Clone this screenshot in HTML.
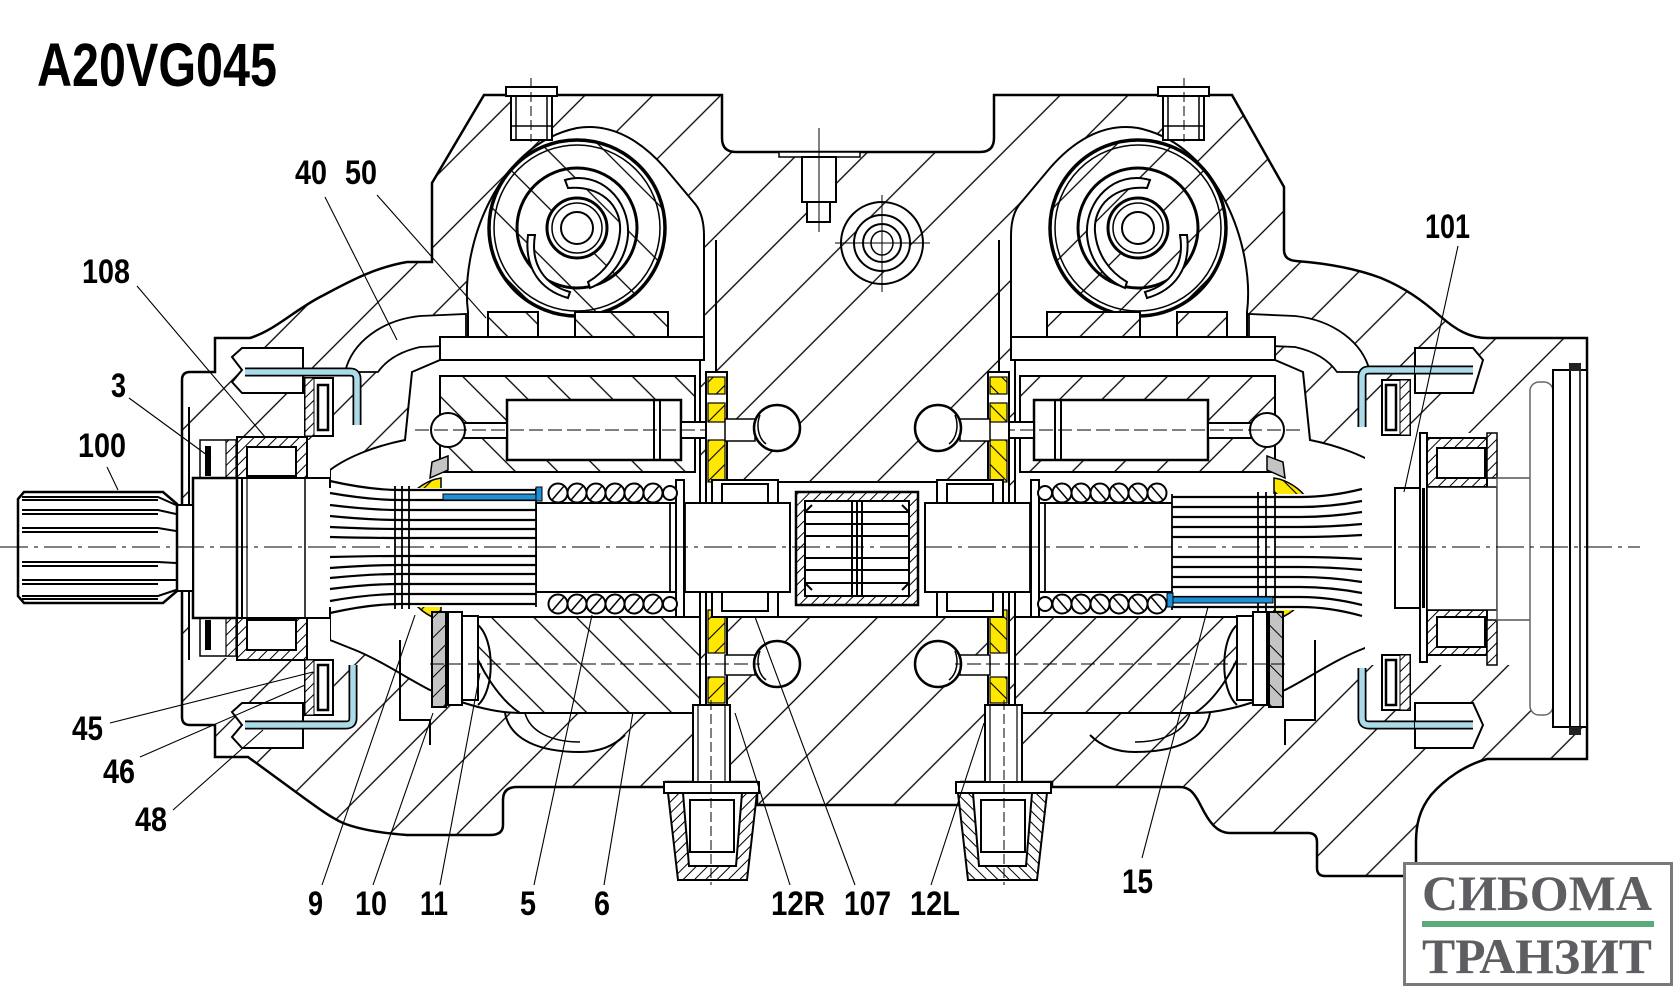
<!DOCTYPE html>
<html><head><meta charset="utf-8">
<style>html,body{margin:0;padding:0;background:#fff}svg{display:block}</style>
</head><body>
<svg width="1674" height="988" viewBox="0 0 1674 988" xmlns="http://www.w3.org/2000/svg" xmlns:xlink="http://www.w3.org/1999/xlink">
<defs>
<pattern id="hA" patternUnits="userSpaceOnUse" width="48" height="48" patternTransform="rotate(45)"><rect width="48" height="48" fill="#fff"/><line x1="1" y1="0" x2="1" y2="48" stroke="#000" stroke-width="1.3"/></pattern>
<pattern id="hB" patternUnits="userSpaceOnUse" width="30" height="30" patternTransform="rotate(-45)"><rect width="30" height="30" fill="#fff"/><line x1="1" y1="0" x2="1" y2="30" stroke="#000" stroke-width="1.3"/></pattern>
<pattern id="hB2" patternUnits="userSpaceOnUse" width="40" height="40" patternTransform="rotate(-45)"><rect width="40" height="40" fill="#fff"/><line x1="1" y1="0" x2="1" y2="40" stroke="#000" stroke-width="1.3"/></pattern>
<pattern id="hS" patternUnits="userSpaceOnUse" width="8" height="8" patternTransform="rotate(45)"><rect width="8" height="8" fill="#fff"/><line x1="1" y1="0" x2="1" y2="8" stroke="#000" stroke-width="1"/></pattern>
<pattern id="hY" patternUnits="userSpaceOnUse" width="14" height="14" patternTransform="rotate(45)"><rect width="14" height="14" fill="#ffe800"/><line x1="1" y1="0" x2="1" y2="14" stroke="#000" stroke-width="1.1"/></pattern>
<pattern id="hG" patternUnits="userSpaceOnUse" width="14" height="14" patternTransform="rotate(45)"><rect width="14" height="14" fill="#c4c4c4"/><line x1="1" y1="0" x2="1" y2="14" stroke="#000" stroke-width="1"/></pattern>
</defs>
<rect width="1674" height="988" fill="#fff"/>

<!-- main housing silhouette -->
<path d="M182,380 Q182,372 190,372 L215,372 L215,338 L250,338 C275,330 292,312 320,297 C345,284 372,268 407,262 L432,262 L432,183 L484,95 L722,95 L722,138 Q722,152 736,152 L980,152 Q994,152 994,138 L994,95 L1232,95 L1284,187 L1284,250 Q1284,260 1296,261 C1322,263 1352,267 1381,278 C1405,288 1422,300 1440,316 C1456,330 1470,338 1487,338 L1587,338 L1587,759 L1487,759 C1465,765 1445,779 1431,795 C1419,810 1416,826 1416,842 L1416,868 Q1416,876 1408,876 L1325,876 Q1317,876 1317,868 L1317,842 Q1317,833 1308,833 L1230,833 C1216,833 1208,820 1201,806 C1195,794 1190,787 1180,787 L1052,787 L1052,782 L961,782 L961,805 L757,805 L757,782 L666,782 L666,787 L517,787 Q503,787 503,800 L503,825 Q503,835 490,835 L407,835 C380,833 358,829 343,823 C330,817 318,808 300,795 L248,757 L215,757 L215,725 L190,725 Q182,725 182,717 Z" fill="url(#hA)" stroke="#000" stroke-width="2.5"/>

<!-- center bore -->
<rect x="727" y="482" width="261" height="135" fill="#fff"/>
<line x1="727" y1="482" x2="988" y2="482" stroke="#000" stroke-width="2"/>
<line x1="727" y1="617" x2="988" y2="617" stroke="#000" stroke-width="2"/>

<g id="half">
 <path d="M330,470 C350,455 380,445 405,440 L412,372 L440,360 L700,360 L700,713 L520,713 C495,713 470,705 455,700 L430,690 C410,680 380,660 355,650 L330,640 Z" fill="#fff" stroke="#000" stroke-width="2"/>
 <path d="M345,372 C352,342 382,320 420,316 L466,314 L466,345 L420,347 C398,352 385,362 378,372 Z" fill="#fff" stroke="#000" stroke-width="1.8"/>
 <path d="M468,345 L468,312 C460,250 495,145 577,128 C615,122 645,145 665,168 L696,205 Q704,216 704,236 L704,345 Z" fill="#fff" stroke="#000" stroke-width="2"/>
 <line x1="716" y1="240" x2="716" y2="372" stroke="#000" stroke-width="2"/>
 <rect x="440" y="337" width="264" height="23" fill="#fff" stroke="#000" stroke-width="2"/>
 <circle cx="577" cy="228" r="88" fill="url(#hB2)" stroke="#000" stroke-width="3.5"/>
 <circle cx="577" cy="228" r="83" fill="none" stroke="#000" stroke-width="1.5"/>
 <circle cx="577" cy="228" r="60" fill="none" stroke="#000" stroke-width="3"/>
 <path d="M565,180 C600,170 630,200 628,235 C626,260 610,280 590,288 L588,282 C605,272 618,255 620,232 C622,205 600,185 568,188 Z" fill="#fff" stroke="#000" stroke-width="2"/>
 <path d="M535,235 C530,265 545,285 570,292 L568,298 C540,290 524,268 528,235 Z" fill="#fff" stroke="#000" stroke-width="2"/>
 <circle cx="577" cy="228" r="30" fill="#fff" stroke="#000" stroke-width="3"/>
 <circle cx="577" cy="228" r="25" fill="none" stroke="#000" stroke-width="1.5"/>
 <circle cx="577" cy="228" r="16" fill="#fff" stroke="#000" stroke-width="2"/>
 <rect x="488" y="312" width="50" height="25" fill="url(#hB)" stroke="#000" stroke-width="2"/>
 <rect x="575" y="312" width="93" height="25" fill="url(#hB)" stroke="#000" stroke-width="2"/>
 <!-- top bolt -->
 <rect x="506" y="87" width="51" height="9" fill="#fff" stroke="#000" stroke-width="2"/>
 <rect x="511" y="96" width="41" height="44" fill="#fff" stroke="#000" stroke-width="2"/>
 <line x1="516" y1="96" x2="516" y2="140" stroke="#000" stroke-width="1.5"/>
 <line x1="547" y1="96" x2="547" y2="140" stroke="#000" stroke-width="1.5"/>
 <line x1="511" y1="126" x2="552" y2="126" stroke="#000" stroke-width="1.5"/>
 <line x1="531" y1="78" x2="531" y2="142" stroke="#000" stroke-width="1" stroke-dasharray="10 4"/>
 <!-- upper cylinder block & piston -->
 <rect x="440" y="376" width="255" height="96" fill="url(#hB)" stroke="#000" stroke-width="2"/>
 <rect x="507" y="400" width="174" height="60" fill="#fff" stroke="#000" stroke-width="2.5"/>
 <line x1="654" y1="400" x2="654" y2="460" stroke="#000" stroke-width="2"/>
 <line x1="660" y1="400" x2="660" y2="460" stroke="#000" stroke-width="2"/>
 <rect x="456" y="423" width="51" height="15" fill="#fff" stroke="#000" stroke-width="2"/>
 <circle cx="448" cy="430" r="17" fill="#fff" stroke="#000" stroke-width="2"/>
 <rect x="681" y="422" width="27" height="16" fill="#fff" stroke="#000" stroke-width="2"/>
 <line x1="415" y1="430" x2="705" y2="430" stroke="#000" stroke-width="1" stroke-dasharray="14 5"/>
 <!-- yellow plate -->
 <rect x="706" y="372" width="21" height="340" fill="#fff" stroke="#000" stroke-width="2"/>
 <rect x="708" y="377" width="17" height="17" fill="url(#hY)" stroke="#000" stroke-width="1.2"/>
 <rect x="708" y="403" width="17" height="19" fill="url(#hY)" stroke="#000" stroke-width="1.2"/>
 <rect x="708" y="440" width="17" height="42" fill="url(#hY)" stroke="#000" stroke-width="1.2"/>
 <rect x="708" y="610" width="17" height="43" fill="url(#hY)" stroke="#000" stroke-width="1.2"/>
 <rect x="708" y="677" width="17" height="26" fill="url(#hY)" stroke="#000" stroke-width="1.2"/>
 <!-- balls -->
 <rect x="725" y="419" width="30" height="22" fill="#fff" stroke="#000" stroke-width="1.5"/>
 <circle cx="777" cy="428" r="23" fill="#fff" stroke="#000" stroke-width="2.5"/>
 <path d="M760,415 C756,425 758,438 766,444" fill="none" stroke="#000" stroke-width="1.5"/>
 <rect x="725" y="655" width="30" height="20" fill="#fff" stroke="#000" stroke-width="1.5"/>
 <circle cx="777" cy="664" r="23" fill="#fff" stroke="#000" stroke-width="2.5"/>
 <path d="M760,651 C756,661 758,674 766,680" fill="none" stroke="#000" stroke-width="1.5"/>
 <!-- shaft & bearing -->
 <rect x="536" y="503" width="254" height="89" fill="#fff" stroke="#000" stroke-width="2"/>
 <line x1="670" y1="503" x2="670" y2="592" stroke="#000" stroke-width="1.8"/>
 <line x1="685" y1="503" x2="685" y2="592" stroke="#000" stroke-width="1.8"/>
 <rect x="712" y="480" width="66" height="23" fill="#fff" stroke="#000" stroke-width="2"/>
 <rect x="722" y="484" width="46" height="19" fill="#fff" stroke="#000" stroke-width="2"/>
 <rect x="712" y="592" width="66" height="25" fill="#fff" stroke="#000" stroke-width="2"/>
 <rect x="722" y="592" width="46" height="19" fill="#fff" stroke="#000" stroke-width="2"/>
 <!-- spring -->
 <rect x="676" y="480" width="8" height="137" fill="#fff" stroke="#000" stroke-width="2"/>
 <g fill="#fff" stroke="#000" stroke-width="2">
  <circle cx="558" cy="493" r="9.5"/><circle cx="577" cy="493" r="9.5"/><circle cx="596" cy="493" r="9.5"/><circle cx="615" cy="493" r="9.5"/><circle cx="634" cy="493" r="9.5"/><circle cx="653" cy="493" r="9.5"/><circle cx="670" cy="493" r="7"/>
  <circle cx="558" cy="604" r="9.5"/><circle cx="577" cy="604" r="9.5"/><circle cx="596" cy="604" r="9.5"/><circle cx="615" cy="604" r="9.5"/><circle cx="634" cy="604" r="9.5"/><circle cx="653" cy="604" r="9.5"/><circle cx="670" cy="604" r="7"/>
 </g>
 <g stroke="#000" stroke-width="1.5">
  <line x1="552" y1="500" x2="564" y2="486"/><line x1="571" y1="500" x2="583" y2="486"/><line x1="590" y1="500" x2="602" y2="486"/><line x1="609" y1="500" x2="621" y2="486"/><line x1="628" y1="500" x2="640" y2="486"/><line x1="647" y1="500" x2="659" y2="486"/>
  <line x1="552" y1="611" x2="564" y2="597"/><line x1="571" y1="611" x2="583" y2="597"/><line x1="590" y1="611" x2="602" y2="597"/><line x1="609" y1="611" x2="621" y2="597"/><line x1="628" y1="611" x2="640" y2="597"/><line x1="647" y1="611" x2="659" y2="597"/>
 </g>
 <!-- lower cylinder block -->
 <path d="M470,617 L700,617 L700,713 L520,713 C500,700 480,670 470,640 Z" fill="url(#hB)" stroke="#000" stroke-width="2"/>
 <path d="M505,713 C510,740 540,752 580,752 C600,752 615,745 625,735" fill="none" stroke="#000" stroke-width="2"/>
 <path d="M525,713 C530,732 552,742 580,742" fill="none" stroke="#000" stroke-width="1.5"/>
 <!-- swash parts -->
 <path d="M407,500 L441,500 L441,478 C428,480 415,488 407,500 Z" fill="url(#hY)" stroke="#000" stroke-width="1.5"/>
 <path d="M407,593 L441,593 L441,620 C428,617 415,607 407,593 Z" fill="url(#hY)" stroke="#000" stroke-width="1.5"/>
 <path d="M430,478 L448,470 L448,456 L432,462 Z" fill="#c4c4c4" stroke="#000" stroke-width="1.5"/>
 <rect x="432" y="612" width="14" height="95" fill="url(#hG)" stroke="#000" stroke-width="2"/>
 <rect x="448" y="612" width="14" height="93" fill="#fff" stroke="#000" stroke-width="2"/>
 <rect x="462" y="616" width="16" height="84" fill="#fff" stroke="#000" stroke-width="2"/>
 <path d="M478,625 C495,640 495,690 478,705" fill="none" stroke="#000" stroke-width="2"/>
 <path d="M400,640 L400,720 L430,720 L430,745" fill="none" stroke="#000" stroke-width="2"/>
 <line x1="430" y1="664" x2="760" y2="664" stroke="#000" stroke-width="1" stroke-dasharray="14 5"/>
 <!-- drain plug -->
 <rect x="693" y="705" width="37" height="77" fill="#fff" stroke="#000" stroke-width="2"/>
 <line x1="698" y1="705" x2="698" y2="782" stroke="#000" stroke-width="1.2"/>
 <line x1="725" y1="705" x2="725" y2="782" stroke="#000" stroke-width="1.2"/>
 <rect x="664" y="782" width="95" height="11" fill="#fff" stroke="#000" stroke-width="2"/>
 <path d="M668,793 L757,793 L747,880 L678,880 Z" fill="url(#hS)" stroke="#000" stroke-width="2"/>
 <path d="M683,793 L742,793 L736,866 L689,866 Z" fill="#fff" stroke="#000" stroke-width="2"/>
 <rect x="690" y="800" width="44" height="52" fill="#fff" stroke="#000" stroke-width="2"/>
 <line x1="711" y1="700" x2="711" y2="885" stroke="#000" stroke-width="1" stroke-dasharray="10 4"/>
</g>
<use xlink:href="#half" href="#half" transform="translate(1715,0) scale(-1,1)"/>

<!-- center coupling 107 -->
<rect x="796" y="492" width="122" height="113" fill="url(#hS)" stroke="#000" stroke-width="2.5"/>
<rect x="805" y="501" width="104" height="95" fill="#fff" stroke="#000" stroke-width="2"/>
<g stroke="#000" stroke-width="2">
 <line x1="805" y1="512" x2="909" y2="512"/><line x1="805" y1="524" x2="909" y2="524"/><line x1="805" y1="536" x2="909" y2="536"/>
 <line x1="805" y1="558" x2="909" y2="558"/><line x1="805" y1="570" x2="909" y2="570"/><line x1="805" y1="583" x2="909" y2="583"/>
 <line x1="852" y1="501" x2="852" y2="596"/><line x1="857" y1="501" x2="857" y2="596"/><line x1="862" y1="501" x2="862" y2="596"/>
 <path d="M812,505 L805,512 M812,590 L805,583 M902,505 L909,512 M902,590 L909,583" fill="none"/>
</g>

<!-- center top boss & bolt -->
<circle cx="882" cy="243" r="41" fill="none" stroke="#000" stroke-width="2"/>
<circle cx="882" cy="243" r="28" fill="#fff" stroke="#000" stroke-width="2"/>
<circle cx="882" cy="243" r="19" fill="none" stroke="#000" stroke-width="2"/>
<ellipse cx="882" cy="243" rx="11" ry="12" fill="none" stroke="#000" stroke-width="1.5"/>
<line x1="835" y1="243" x2="930" y2="243" stroke="#000" stroke-width="1"/>
<line x1="882" y1="195" x2="882" y2="292" stroke="#000" stroke-width="1"/>
<rect x="779" y="152" width="81" height="5" fill="#fff" stroke="#000" stroke-width="1.5"/>
<rect x="802" y="157" width="34" height="45" fill="#fff" stroke="#000" stroke-width="2"/>
<rect x="807" y="202" width="23" height="20" fill="#fff" stroke="#000" stroke-width="2"/>
<line x1="819" y1="128" x2="819" y2="232" stroke="#000" stroke-width="1"/>

<!-- LEFT FRONT -->
<rect x="188" y="440" width="142" height="218" fill="#fff"/>
<line x1="189" y1="407" x2="189" y2="660" stroke="#000" stroke-width="2"/>
<rect x="237" y="437" width="70" height="41" fill="url(#hS)" stroke="#000" stroke-width="2"/>
<rect x="247" y="447" width="49" height="29" fill="#fff" stroke="#000" stroke-width="2"/>
<rect x="237" y="618" width="70" height="42" fill="url(#hS)" stroke="#000" stroke-width="2"/>
<rect x="247" y="620" width="49" height="30" fill="#fff" stroke="#000" stroke-width="2"/>
<rect x="200" y="440" width="36" height="38" fill="#fff" stroke="#000" stroke-width="1.5"/>
<rect x="205" y="446" width="6" height="30" fill="#000"/>
<rect x="226" y="440" width="10" height="38" fill="url(#hS)" stroke="#000" stroke-width="1.2"/>
<rect x="200" y="618" width="36" height="38" fill="#fff" stroke="#000" stroke-width="1.5"/>
<rect x="205" y="620" width="6" height="30" fill="#000"/>
<rect x="226" y="618" width="10" height="38" fill="url(#hS)" stroke="#000" stroke-width="1.2"/>
<rect x="237" y="478" width="93" height="140" fill="#fff" stroke="#000" stroke-width="2"/>
<line x1="242" y1="478" x2="242" y2="618" stroke="#000" stroke-width="2"/>
<line x1="247" y1="478" x2="247" y2="618" stroke="#000" stroke-width="1.2"/>
<line x1="305" y1="478" x2="305" y2="618" stroke="#000" stroke-width="1.5"/>
<rect x="193" y="478" width="44" height="140" fill="#fff" stroke="#000" stroke-width="2.5"/>
<rect x="177" y="505" width="16" height="86" fill="#fff" stroke="#000" stroke-width="2"/>
<!-- shaft 100 -->
<path d="M24,492 L163,492 L177,504 L177,591 L163,603 L24,603 L18,596 L18,499 Z" fill="#fff" stroke="#000" stroke-width="2.5"/>
<g stroke="#000" stroke-width="2" fill="none">
 <path d="M22,497 L158,497 L176,505 M22,500 L158,500"/>
 <path d="M22,510 L158,510 L176,514 M22,514 L158,514"/>
 <path d="M22,528 L158,528 L176,531 M22,532 L158,532"/>
 <path d="M22,562 L158,562 L176,563 M22,566 L158,566"/>
 <path d="M22,580 L158,580 L176,580 M22,584 L158,584"/>
 <path d="M22,596 L158,596 L176,590 M22,599 L158,599"/>
</g>
<!-- left splines -->
<rect x="327" y="488" width="209" height="119" fill="#fff"/>
<g stroke="#000" stroke-width="2.2" fill="none">
 <path d="M536,490 L400,490 Q370,490 330,481"/>
 <path d="M536,500 L400,500 Q370,500 330,493"/>
 <path d="M536,510 L400,510 Q370,510 330,505"/>
 <path d="M536,520 L400,520 Q370,520 330,516"/>
 <path d="M536,529 L400,529 Q370,529 330,527"/>
 <path d="M536,538 L400,538 Q370,538 330,537"/>
 <path d="M536,556 L400,556 Q370,556 330,557"/>
 <path d="M536,565 L400,565 Q370,565 330,568"/>
 <path d="M536,574 L400,574 Q370,574 330,578"/>
 <path d="M536,584 L400,584 Q370,584 330,589"/>
 <path d="M536,594 L400,594 Q370,594 330,601"/>
 <path d="M536,604 L400,604 Q370,604 330,613"/>
</g>
<g stroke="#000" stroke-width="1.8">
 <line x1="395" y1="486" x2="395" y2="609"/><line x1="402" y1="486" x2="402" y2="609"/><line x1="409" y1="486" x2="409" y2="609"/><line x1="536" y1="488" x2="536" y2="607"/>
</g>
<rect x="443" y="494" width="96" height="6" fill="#1f8fd6" stroke="#000" stroke-width="1"/>
<rect x="536" y="487" width="6" height="14" fill="#1f8fd6" stroke="#000" stroke-width="1"/>
<!-- left tubes & bolts -->
<path d="M242,370 L232,357 L242,348 L303,348 L303,393 L242,393 L232,382 Z" fill="#fff" stroke="#000" stroke-width="2"/>
<path d="M242,725 L232,712 L242,703 L303,703 L303,748 L242,748 L232,737 Z" fill="#fff" stroke="#000" stroke-width="2"/>
<rect x="305" y="378" width="28" height="58" fill="#fff" stroke="#000" stroke-width="2"/>
<rect x="305" y="378" width="9" height="58" fill="url(#hS)" stroke="#000" stroke-width="1"/>
<rect x="318" y="385" width="10" height="45" fill="#fff" stroke="#000" stroke-width="2.5"/>
<rect x="305" y="660" width="28" height="55" fill="#fff" stroke="#000" stroke-width="2"/>
<rect x="305" y="660" width="9" height="55" fill="url(#hS)" stroke="#000" stroke-width="1"/>
<rect x="318" y="665" width="10" height="45" fill="#fff" stroke="#000" stroke-width="2.5"/>
<g fill="none" stroke-linejoin="round">
 <path d="M245,372 L350,372 Q357,372 357,379 L357,425" stroke="#000" stroke-width="9"/>
 <path d="M245,372 L350,372 Q357,372 357,379 L357,425" stroke="#a9dbe8" stroke-width="5.5"/>
 <path d="M245,725 L346,725 Q353,725 353,718 L353,665" stroke="#000" stroke-width="9"/>
 <path d="M245,725 L346,725 Q353,725 353,718 L353,665" stroke="#a9dbe8" stroke-width="5.5"/>
 <path d="M1473,370 L1369,370 Q1362,370 1362,377 L1362,427" stroke="#000" stroke-width="9"/>
 <path d="M1473,370 L1369,370 Q1362,370 1362,377 L1362,427" stroke="#a9dbe8" stroke-width="5.5"/>
 <path d="M1473,725 L1369,725 Q1362,725 1362,718 L1362,668" stroke="#000" stroke-width="9"/>
 <path d="M1473,725 L1369,725 Q1362,725 1362,718 L1362,668" stroke="#a9dbe8" stroke-width="5.5"/>
</g>

<!-- RIGHT END -->
<rect x="1365" y="433" width="188" height="232" fill="#fff"/>
<rect x="1395" y="488" width="25" height="120" fill="#fff" stroke="#000" stroke-width="2"/>
<rect x="1420" y="433" width="7" height="229" fill="#fff" stroke="#000" stroke-width="2"/>
<rect x="1422" y="488" width="3" height="120" fill="#000"/>
<rect x="1427" y="438" width="60" height="49" fill="url(#hS)" stroke="#000" stroke-width="2"/>
<rect x="1437" y="448" width="48" height="30" fill="#fff" stroke="#000" stroke-width="2"/>
<rect x="1427" y="610" width="60" height="45" fill="url(#hS)" stroke="#000" stroke-width="2"/>
<rect x="1437" y="617" width="48" height="30" fill="#fff" stroke="#000" stroke-width="2"/>
<rect x="1487" y="433" width="10" height="45" fill="url(#hS)" stroke="#000" stroke-width="1.5"/>
<rect x="1487" y="620" width="10" height="45" fill="url(#hS)" stroke="#000" stroke-width="1.5"/>
<rect x="1427" y="487" width="70" height="123" fill="#fff" stroke="#000" stroke-width="1.5"/>
<rect x="1497" y="478" width="53" height="142" fill="#fff" stroke="#555" stroke-width="1.5"/>
<rect x="1530" y="382" width="23" height="333" rx="9" fill="#fff" stroke="#666" stroke-width="1.5"/>
<rect x="1553" y="370" width="34" height="357" fill="#fff" stroke="#000" stroke-width="2"/>
<line x1="1570" y1="370" x2="1570" y2="727" stroke="#000" stroke-width="2"/>
<line x1="1580" y1="370" x2="1580" y2="727" stroke="#000" stroke-width="1.5"/>
<rect x="1569" y="363" width="12" height="8" fill="#222"/>
<rect x="1569" y="727" width="12" height="8" fill="#222"/>
<!-- right splines -->
<rect x="1172" y="494" width="190" height="116" fill="#fff"/>
<g stroke="#000" stroke-width="2.2" fill="none">
 <path d="M1172,497 L1300,497 Q1330,497 1362,489"/>
 <path d="M1172,507 L1300,507 Q1330,507 1362,501"/>
 <path d="M1172,517 L1300,517 Q1330,517 1362,512"/>
 <path d="M1172,527 L1300,527 Q1330,527 1362,524"/>
 <path d="M1172,537 L1300,537 Q1330,537 1362,535"/>
 <path d="M1172,557 L1300,557 Q1330,557 1362,559"/>
 <path d="M1172,567 L1300,567 Q1330,567 1362,570"/>
 <path d="M1172,577 L1300,577 Q1330,577 1362,582"/>
 <path d="M1172,587 L1300,587 Q1330,587 1362,593"/>
 <path d="M1172,597 L1300,597 Q1330,597 1362,605"/>
 <path d="M1172,607 L1300,607 Q1330,607 1362,616"/>
</g>
<g stroke="#000" stroke-width="1.8">
 <line x1="1172" y1="494" x2="1172" y2="610"/><line x1="1258" y1="492" x2="1258" y2="612"/><line x1="1266" y1="492" x2="1266" y2="612"/><line x1="1275" y1="492" x2="1275" y2="612"/>
</g>
<rect x="1173" y="597" width="100" height="6" fill="#1f8fd6" stroke="#000" stroke-width="1"/>
<rect x="1167" y="593" width="6" height="14" fill="#1f8fd6" stroke="#000" stroke-width="1"/>
<!-- right bolts & seals -->
<path d="M1415,348 L1473,348 L1483,360 L1473,393 L1415,393 Z" fill="#fff" stroke="#000" stroke-width="2"/>
<path d="M1415,703 L1473,703 L1483,725 L1473,748 L1415,748 Z" fill="#fff" stroke="#000" stroke-width="2"/>
<path d="M1415,370 L1473,370" stroke="#000" stroke-width="9"/>
<path d="M1415,370 L1473,370" stroke="#a9dbe8" stroke-width="5.5"/>
<path d="M1415,725 L1473,725" stroke="#000" stroke-width="9"/>
<path d="M1415,725 L1473,725" stroke="#a9dbe8" stroke-width="5.5"/>
<rect x="1382" y="380" width="28" height="55" fill="#fff" stroke="#000" stroke-width="2"/>
<rect x="1400" y="380" width="10" height="55" fill="url(#hS)" stroke="#000" stroke-width="1"/>
<rect x="1386" y="385" width="10" height="45" fill="#fff" stroke="#000" stroke-width="2.5"/>
<rect x="1382" y="655" width="28" height="55" fill="#fff" stroke="#000" stroke-width="2"/>
<rect x="1400" y="655" width="10" height="55" fill="url(#hS)" stroke="#000" stroke-width="1"/>
<rect x="1386" y="660" width="10" height="45" fill="#fff" stroke="#000" stroke-width="2.5"/>

<!-- main centerline -->
<line x1="0" y1="547" x2="1640" y2="547" stroke="#000" stroke-width="1.1" stroke-dasharray="28 6 4 6"/>

<!-- leader lines -->
<g stroke="#000" stroke-width="1.1">
 <line x1="325" y1="197" x2="397" y2="340"/>
 <line x1="377" y1="195" x2="486" y2="318"/>
 <line x1="137" y1="286" x2="265" y2="437"/>
 <line x1="129" y1="398" x2="211" y2="458"/>
 <line x1="107" y1="467" x2="118" y2="490"/>
 <line x1="1458" y1="246" x2="1404" y2="492"/>
 <line x1="110" y1="723" x2="313" y2="672"/>
 <line x1="140" y1="757" x2="305" y2="685"/>
 <line x1="173" y1="810" x2="263" y2="730"/>
 <line x1="322" y1="885" x2="415" y2="615"/>
 <line x1="373" y1="885" x2="433" y2="713"/>
 <line x1="440" y1="885" x2="480" y2="673"/>
 <line x1="534" y1="885" x2="592" y2="615"/>
 <line x1="604" y1="885" x2="633" y2="712"/>
 <line x1="790" y1="885" x2="735" y2="713"/>
 <line x1="855" y1="885" x2="755" y2="617"/>
 <line x1="931" y1="885" x2="984" y2="723"/>
 <line x1="1142" y1="858" x2="1208" y2="607"/>
</g>

<!-- labels -->
<g font-family="'Liberation Sans', Arial, sans-serif" font-weight="bold" font-size="34" fill="#000">
 <text x="37" y="86" font-size="61" textLength="240" lengthAdjust="spacingAndGlyphs">A20VG045</text>
 <text x="295" y="184" textLength="32" lengthAdjust="spacingAndGlyphs">40</text>
 <text x="345" y="184" textLength="32" lengthAdjust="spacingAndGlyphs">50</text>
 <text x="82" y="283" textLength="48" lengthAdjust="spacingAndGlyphs">108</text>
 <text x="111" y="397" textLength="15" lengthAdjust="spacingAndGlyphs">3</text>
 <text x="78" y="457" textLength="48" lengthAdjust="spacingAndGlyphs">100</text>
 <text x="1425" y="238" textLength="45" lengthAdjust="spacingAndGlyphs">101</text>
 <text x="72" y="740" textLength="31" lengthAdjust="spacingAndGlyphs">45</text>
 <text x="103" y="783" textLength="32" lengthAdjust="spacingAndGlyphs">46</text>
 <text x="135" y="831" textLength="32" lengthAdjust="spacingAndGlyphs">48</text>
 <text x="308" y="915" textLength="15" lengthAdjust="spacingAndGlyphs">9</text>
 <text x="355" y="915" textLength="32" lengthAdjust="spacingAndGlyphs">10</text>
 <text x="420" y="915" textLength="28" lengthAdjust="spacingAndGlyphs">11</text>
 <text x="520" y="915" textLength="16" lengthAdjust="spacingAndGlyphs">5</text>
 <text x="594" y="915" textLength="16" lengthAdjust="spacingAndGlyphs">6</text>
 <text x="771" y="915" textLength="54" lengthAdjust="spacingAndGlyphs">12R</text>
 <text x="844" y="915" textLength="47" lengthAdjust="spacingAndGlyphs">107</text>
 <text x="910" y="915" textLength="50" lengthAdjust="spacingAndGlyphs">12L</text>
 <text x="1122" y="893" textLength="31" lengthAdjust="spacingAndGlyphs">15</text>
</g>

<!-- logo -->
<rect x="1404.5" y="863.5" width="267" height="121" fill="#fff" stroke="#7a7a7a" stroke-width="3"/>
<g font-family="'Liberation Serif', 'Times New Roman', serif" font-weight="bold" font-size="50" fill="#5d5e61">
 <text x="1422" y="910" textLength="230" lengthAdjust="spacingAndGlyphs">СИБОМА</text>
 <text x="1422" y="973" textLength="230" lengthAdjust="spacingAndGlyphs">ТРАНЗИТ</text>
</g>
<rect x="1422" y="921" width="232" height="6" fill="#5aaa7b"/>
</svg>
</body></html>
